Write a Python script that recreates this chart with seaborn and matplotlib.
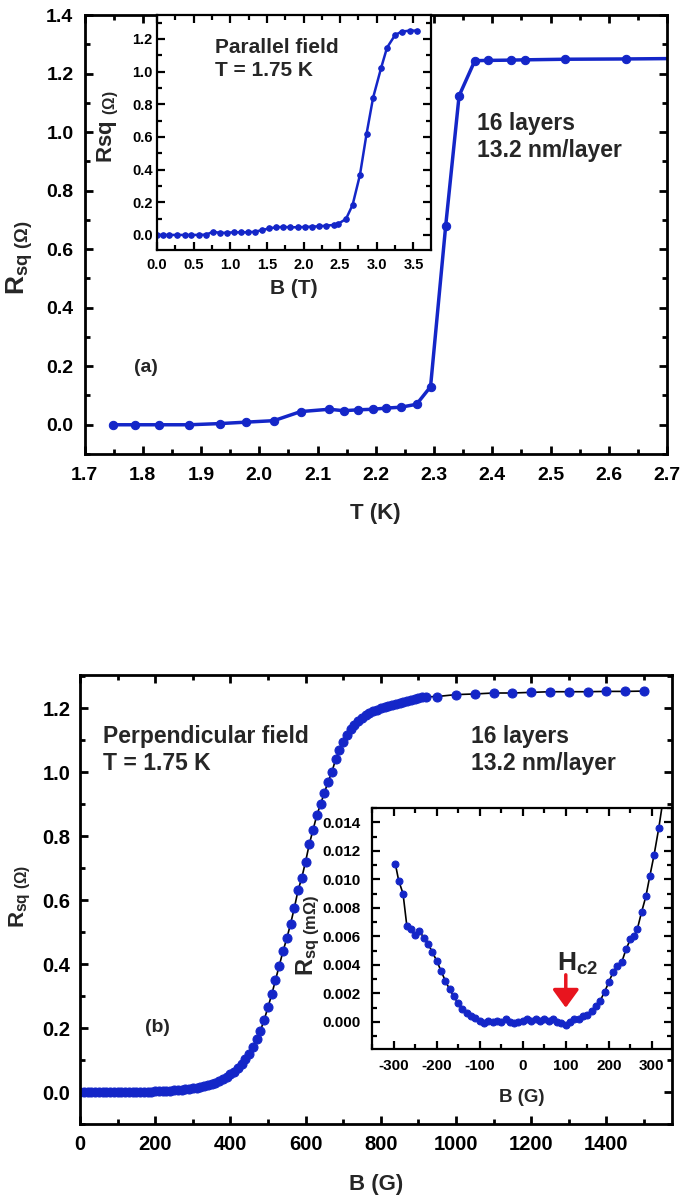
import matplotlib
matplotlib.use('Agg')
import matplotlib.pyplot as plt
import seaborn as sns
from matplotlib.ticker import MultipleLocator

# (a) main panel: R_sq vs temperature
t_main = [1.749, 1.786, 1.828, 1.880, 1.932, 1.978, 2.025, 2.071, 2.120, 2.145, 2.169, 2.195,
          2.218, 2.243, 2.270, 2.294, 2.320, 2.343, 2.370, 2.392, 2.432, 2.456, 2.525, 2.630, 2.750]
r_main = [0.0, 0.0, 0.0, 0.0, 0.004, 0.009, 0.014, 0.045, 0.053, 0.048, 0.051, 0.053,
          0.057, 0.060, 0.070, 0.130, 0.680, 1.124, 1.244, 1.245, 1.246, 1.247, 1.249, 1.250, 1.252]

# (a) inset: parallel field sweep, T = 1.75 K
b_par = [0.00, 0.08, 0.17, 0.27, 0.38, 0.47, 0.57, 0.67, 0.77, 0.86, 0.96, 1.05, 1.14, 1.24,
         1.34, 1.44, 1.53, 1.63, 1.72, 1.82, 1.92, 2.02, 2.12, 2.21, 2.31, 2.41, 2.47, 2.58,
         2.67, 2.77, 2.86, 2.95, 3.06, 3.14, 3.25, 3.34, 3.45, 3.55]
r_par = [0.0, 0.0, 0.0, 0.0, 0.0, 0.0, 0.0, 0.002, 0.020, 0.012, 0.014, 0.016, 0.016, 0.016,
         0.020, 0.030, 0.040, 0.047, 0.049, 0.047, 0.047, 0.049, 0.051, 0.053, 0.057, 0.061,
         0.067, 0.098, 0.184, 0.367, 0.618, 0.841, 1.024, 1.147, 1.224, 1.245, 1.251, 1.251]

# (b) main panel: perpendicular field sweep
b_perp = [0, 10, 20, 30, 40, 50, 60, 70, 80, 90, 100, 110, 120, 130, 140, 150, 160, 170, 180,
          190, 200, 210, 220, 230, 240, 250, 260, 270, 280, 290, 300, 310, 320, 330, 340, 350,
          360, 370, 380, 390, 400, 410, 420, 430, 440, 450, 460, 470, 480, 490, 500, 510, 520,
          530, 540, 550, 560, 570, 580, 590, 600, 610, 620, 630, 640, 650, 660, 670, 680, 690,
          700, 710, 720, 730, 740, 750, 760, 770, 780, 790, 800, 810, 820, 830, 840, 850, 860,
          870, 880, 890, 900, 910, 920, 950, 1000, 1050, 1100, 1150, 1200, 1250, 1300, 1350,
          1400, 1450, 1500]
r_perp = [0.000, 0.000, 0.000, 0.000, 0.000, 0.000, 0.000, 0.000, 0.000, 0.000, 0.000, 0.000,
          0.001, 0.001, 0.001, 0.001, 0.001, 0.001, 0.001, 0.001, 0.002, 0.002, 0.002, 0.003,
          0.004, 0.005, 0.006, 0.007, 0.008, 0.010, 0.012, 0.014, 0.016, 0.019, 0.022, 0.025,
          0.029, 0.034, 0.040, 0.047, 0.055, 0.064, 0.075, 0.088, 0.103, 0.120, 0.141, 0.165,
          0.192, 0.226, 0.265, 0.305, 0.350, 0.395, 0.440, 0.480, 0.525, 0.575, 0.630, 0.670,
          0.720, 0.775, 0.820, 0.865, 0.900, 0.935, 0.970, 1.000, 1.040, 1.070, 1.095, 1.115,
          1.135, 1.148, 1.160, 1.170, 1.178, 1.185, 1.190, 1.195, 1.200, 1.204, 1.207, 1.210,
          1.213, 1.216, 1.219, 1.222, 1.225, 1.228, 1.231, 1.233, 1.235, 1.236, 1.242, 1.244,
          1.247, 1.247, 1.249, 1.251, 1.251, 1.251, 1.252, 1.252, 1.253]

# (b) inset: low-field region (mOhm)
b_low = [-296, -288, -278, -269, -260, -250, -240, -230, -220, -210, -200, -190, -180, -170,
         -160, -150, -140, -130, -120, -110, -100, -90, -80, -70, -60, -50, -40, -30, -20, -10,
         0, 10, 20, 30, 40, 50, 60, 70, 80, 90, 100, 110, 120, 130, 140, 150, 160, 170, 180,
         190, 200, 210, 220, 230, 240, 250, 258, 266, 276, 286, 295, 305, 316, 328]
r_low = [0.0111, 0.0099, 0.0090, 0.0067, 0.0065, 0.0061, 0.0064, 0.0059, 0.0055, 0.0049,
         0.0043, 0.0036, 0.0029, 0.0023, 0.0018, 0.0013, 0.0009, 0.0006, 0.0004, 0.0003,
         0.0001, -0.0001, 0.0001, 0.0000, 0.0001, 0.0000, 0.0002, 0.0000, -0.0001, 0.0000,
         0.0001, 0.0002, 0.0001, 0.0002, 0.0001, 0.0002, 0.0001, 0.0002, 0.0000, -0.0001,
         -0.0002, 0.0000, 0.0002, 0.0002, 0.0004, 0.0005, 0.0008, 0.0011, 0.0015, 0.0021,
         0.0028, 0.0035, 0.0039, 0.0042, 0.0051, 0.0058, 0.0060, 0.0065, 0.0077, 0.0088,
         0.0102, 0.0117, 0.0136, 0.0160]

blue = '#1426c8'

sns.set_theme(style='ticks')
plt.rcParams['font.family'] = ['Liberation Sans', 'DejaVu Sans']
plt.rcParams['font.weight'] = 'bold'
plt.rcParams['axes.labelweight'] = 'bold'
plt.rcParams['axes.unicode_minus'] = False
plt.rcParams['mathtext.fontset'] = 'custom'
plt.rcParams['mathtext.rm'] = 'Liberation Sans:bold'
plt.rcParams['mathtext.bf'] = 'Liberation Sans:bold'
plt.rcParams['mathtext.it'] = 'Liberation Sans:bold'
plt.rcParams['mathtext.sf'] = 'Liberation Sans'


def style(ax, xmaj, ymaj, size, lw, xpad, ypad):
    ax.xaxis.set_major_locator(MultipleLocator(xmaj))
    ax.xaxis.set_minor_locator(MultipleLocator(xmaj / 2))
    ax.yaxis.set_major_locator(MultipleLocator(ymaj))
    ax.yaxis.set_minor_locator(MultipleLocator(ymaj / 2))
    ax.tick_params(which='both', direction='in', top=True, right=True, width=lw,
                   labelsize=size, colors='black')
    ax.tick_params(axis='x', which='both', pad=xpad)
    ax.tick_params(axis='y', which='both', pad=ypad)
    ax.tick_params(which='major', length=6)
    ax.tick_params(which='minor', length=3.5)
    for s in ax.spines.values():
        s.set_linewidth(lw)
        s.set_color('black')
    for lab in ax.get_xticklabels() + ax.get_yticklabels():
        lab.set_fontweight('bold')


def ylab(ax, x, y, label, size):
    ax.set_ylabel('')
    ax.text(x, y, label, transform=ax.transAxes, rotation=90, fontsize=size,
            fontweight='bold', ha='center', va='center')


fig = plt.figure(figsize=(6.85, 12.04), dpi=100)

# ---- panel (a)
ax1 = fig.add_axes([0.1234, 0.6229, 0.8504, 0.3646])
sns.lineplot(x=t_main, y=r_main, ax=ax1, color=blue, lw=2.5, marker='o', ms=6,
             mec=blue, mfc=blue, sort=False, estimator=None)
ax1.set_xlim(1.7, 2.7)
ax1.set_ylim(-0.1, 1.4)
style(ax1, 0.1, 0.2, 14, 2, 9, 8)
ax1.set_xlabel('T (K)', fontsize=16, labelpad=14)
ylab(ax1, -0.111, 0.446, r'R$_{sq\ \mathsf{(\Omega)}}$', 19)
ax1.text(0.673, 0.78, '16 layers\n13.2 nm/layer', transform=ax1.transAxes, fontsize=16.5,
         fontweight='bold', va='top', ha='left', linespacing=1.25)
ax1.text(0.085, 0.198, '(a)', transform=ax1.transAxes, fontsize=14, fontweight='bold',
         va='center', ha='left')

ax1i = fig.add_axes([0.2292, 0.7924, 0.4, 0.1952])
sns.lineplot(x=b_par, y=r_par, ax=ax1i, color=blue, lw=1.8, marker='o', ms=4,
             mec=blue, mfc=blue, sort=False, estimator=None)
ax1i.set_xlim(0, 3.74)
ax1i.set_ylim(-0.092, 1.347)
style(ax1i, 0.5, 0.2, 10.5, 1.6, 6, 3)
ax1i.set_xlabel('B (T)', fontsize=15, labelpad=5)
ylab(ax1i, -0.179, 0.523, r'Rsq $_{\mathsf{(\Omega)}}$', 16)
ax1i.text(0.21, 0.9, 'Parallel field\nT = 1.75 K', transform=ax1i.transAxes, fontsize=15,
          fontweight='bold', va='top', ha='left', linespacing=1.25)

# ---- panel (b)
ax2 = fig.add_axes([0.1168, 0.0664, 0.8638, 0.3729])
sns.lineplot(x=b_perp, y=r_perp, ax=ax2, color='black', lw=1.2, marker='o', ms=6.5,
             mec=blue, mfc=blue, sort=False, estimator=None)
ax2.set_xlim(0, 1574)
ax2.set_ylim(-0.1, 1.303)
style(ax2, 200, 0.2, 14.5, 2, 8, 7)
ax2.set_xlabel('B (G)', fontsize=16, labelpad=14)
ylab(ax2, -0.101, 0.506, r'R$_{sq\ \mathsf{(\Omega)}}$', 16)
ax2.text(0.039, 0.889, 'Perpendicular field\nT = 1.75 K', transform=ax2.transAxes,
         fontsize=16.5, fontweight='bold', va='top', ha='left', linespacing=1.25)
ax2.text(0.66, 0.889, '16 layers\n13.2 nm/layer', transform=ax2.transAxes, fontsize=16.5,
         fontweight='bold', va='top', ha='left', linespacing=1.25)
ax2.text(0.11, 0.215, '(b)', transform=ax2.transAxes, fontsize=14, fontweight='bold',
         va='center', ha='left')

ax2i = fig.add_axes([0.5431, 0.1287, 0.4375, 0.2002])
sns.lineplot(x=b_low, y=r_low, ax=ax2i, color='black', lw=1.2, marker='o', ms=5,
             mec=blue, mfc=blue, sort=False, estimator=None)
ax2i.set_xlim(-350, 346)
ax2i.set_ylim(-0.0019, 0.015)
style(ax2i, 100, 0.002, 11, 1.6, 7, 8)
ax2i.set_xlabel('B (G)', fontsize=13.5, labelpad=12)
ylab(ax2i, -0.213, 0.473, r'R$_{sq\ \mathsf{(m\Omega)}}$', 17)
ax2i.annotate('', xy=(100, 0.0008), xytext=(100, 0.0035),
              arrowprops=dict(arrowstyle='-|>,head_width=0.4,head_length=0.55',
                              color='#e8141e', lw=2.5, mutation_scale=20))
ax2i.text(80, 0.0036, r'H$_{c2}$', fontsize=19, fontweight='bold', ha='left', va='baseline')

fig.savefig('out.png', dpi=100, facecolor='white')
